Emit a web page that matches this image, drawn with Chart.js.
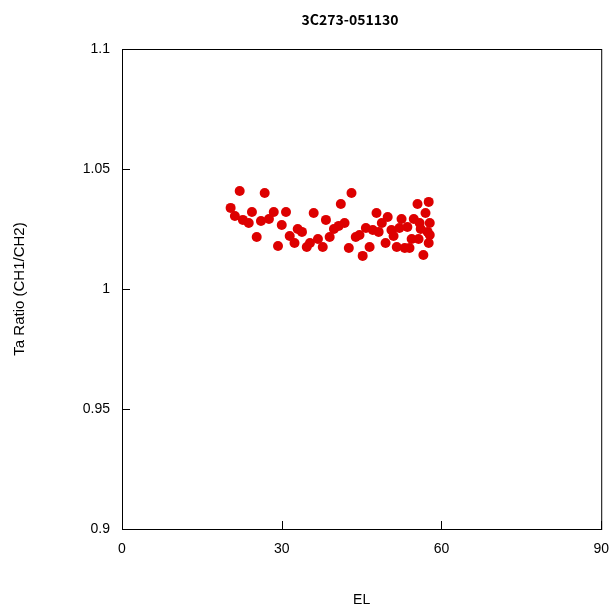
<!DOCTYPE html>
<html>
<head>
<meta charset="utf-8">
<script src="https://cdn.jsdelivr.net/npm/chart.js@4.4.0/dist/chart.umd.min.js"></script>
<style>
  html, body { margin: 0; padding: 0; background: #fff; }
  canvas { display: block; }
</style>
</head>
<body>
<canvas id="c1" width="613" height="610"></canvas>
<script>
/* ── Data ──────────────────────────────────────────────── */
const TITLE   = '3C273-051130';
const X_LABEL = 'EL';
const Y_LABEL = 'Ta Ratio (CH1/CH2)';

const X_TICKS = [0, 30, 60, 90];
const Y_TICKS = [0.9, 0.95, 1, 1.05, 1.1];

const elev = [
    20.4, 21.2, 22.1, 22.7, 23.8, 24.4, 25.3, 26.1, 26.8, 27.6,
    28.5, 29.3, 30.0, 30.8, 31.5, 32.4, 33.0, 33.8, 34.7, 35.3,
    36.0, 36.8, 37.7, 38.3, 39.0, 39.8, 40.7, 41.1, 41.8, 42.6,
    43.1, 43.9, 44.6, 45.2, 45.8, 46.5, 47.1, 47.8, 48.2, 48.8,
    49.5, 49.9, 50.6, 51.0, 51.6, 52.1, 52.5, 53.1, 53.6, 54.0,
    54.4, 54.8, 55.5, 55.7, 55.9, 56.1, 56.6, 57.0, 57.4, 57.6,
    57.6, 57.8, 57.8
];
const ratio = [
    1.0338, 1.0304, 1.0408, 1.0288, 1.0275, 1.0321, 1.0217, 1.0283, 1.0400, 1.0292,
    1.0321, 1.0179, 1.0267, 1.0321, 1.0221, 1.0192, 1.0250, 1.0238, 1.0175, 1.0192,
    1.0317, 1.0208, 1.0175, 1.0288, 1.0217, 1.0250, 1.0263, 1.0354, 1.0275, 1.0171,
    1.0400, 1.0217, 1.0225, 1.0138, 1.0254, 1.0175, 1.0246, 1.0317, 1.0238, 1.0275,
    1.0192, 1.0300, 1.0246, 1.0221, 1.0175, 1.0254, 1.0292, 1.0171, 1.0258, 1.0171,
    1.0208, 1.0292, 1.0354, 1.0208, 1.0275, 1.0250, 1.0142, 1.0317, 1.0238, 1.0363,
    1.0192, 1.0275, 1.0225
];

/* ── Styles ────────────────────────────────────────────── */
const RED   = '#dd0000';
const FONT  = 'Liberation Sans';
const TICK_FONT = { family: FONT, size: 14 };

/* frame + inward tick marks + title */
const framePlugin = {
    id: 'frame',
    afterDraw(chart) {
        const { ctx, chartArea: a, scales } = chart;
        ctx.save();
        ctx.strokeStyle = '#000';
        ctx.lineWidth = 1;
        ctx.strokeRect(a.left + 0.5, a.top + 0.5, a.right - a.left, a.bottom - a.top);

        ctx.beginPath();
        X_TICKS.forEach(function (v) {
            const px = Math.round(scales.x.getPixelForValue(v)) + 0.5;
            ctx.moveTo(px, a.bottom);
            ctx.lineTo(px, a.bottom - 8);
        });
        Y_TICKS.forEach(function (v) {
            const py = Math.round(scales.y.getPixelForValue(v)) + 0.5;
            ctx.moveTo(a.left, py);
            ctx.lineTo(a.left + 8, py);
        });
        ctx.stroke();

        ctx.fillStyle = '#000';
        ctx.font = 'bold 14px "Noto Sans CJK JP", "Liberation Sans"';
        ctx.textAlign = 'center';
        ctx.textBaseline = 'middle';
        ctx.fillText(TITLE, 350, 20);
        ctx.restore();
    }
};

new Chart(document.getElementById('c1'), {
    type : 'scatter',
    data : {
        datasets : [{
            data            : elev.map(function (x, i) { return { x: x, y: ratio[i] }; }),
            backgroundColor : RED,
            borderColor     : RED,
            pointRadius     : 5,
            pointHoverRadius: 5,
            borderWidth     : 0,
        }],
    },
    options : {
        responsive : false,
        animation  : false,
        layout     : { padding: { top: 49, right: 3, left: 0, bottom: 0 } },
        plugins    : {
            legend  : { display: false },
            tooltip : { enabled: false },
            title   : { display: false },
        },
        scales : {
            x : {
                type   : 'linear',
                min    : 0,
                max    : 90,
                grid   : { display: false },
                border : { display: false },
                ticks  : {
                    stepSize : 30,
                    padding  : 4,
                    color    : '#000',
                    font     : TICK_FONT,
                    maxRotation : 0,
                },
                title  : {
                    display : true,
                    text    : X_LABEL,
                    color   : '#000',
                    font    : TICK_FONT,
                    padding : { top: 0, bottom: 1 },
                },
                afterFit(s) { s.height = 81; },
            },
            y : {
                type   : 'linear',
                min    : 0.9,
                max    : 1.1,
                grid   : { display: false },
                border : { display: false },
                ticks  : {
                    stepSize : 0.05,
                    padding  : 4,
                    color    : '#000',
                    font     : TICK_FONT,
                    callback : function (v) { return String(parseFloat(v.toFixed(2))); },
                },
                title  : {
                    display : true,
                    text    : Y_LABEL,
                    color   : '#000',
                    font    : { family: FONT, size: 15 },
                    padding : { top: 11, bottom: 0 },
                },
                afterFit(s) { s.width = 122; },
            },
        },
    },
    plugins : [framePlugin],
});
</script>
</body>
</html>
